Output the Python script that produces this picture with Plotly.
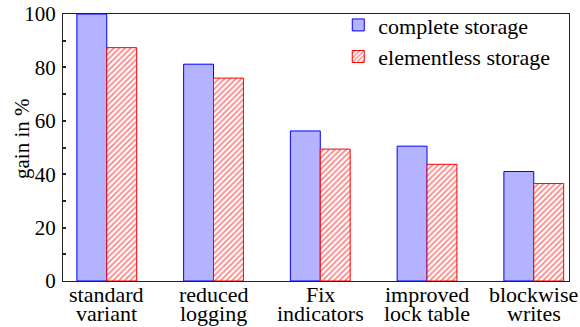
import plotly.graph_objects as go

categories = ["standard variant", "reduced logging", "Fix indicators", "improved lock table", "blockwise writes"]
tick_line1 = ["standard", "reduced", "Fix", "improved", "blockwise"]
tick_line2 = ["variant", "logging", "indicators", "lock table", "writes"]
complete_storage = [100, 81.2, 56.2, 50.5, 41.0]
elementless_storage = [87.4, 76.0, 49.4, 43.7, 36.5]

FONT = "Liberation Serif"
xs = list(range(len(categories)))

fig = go.Figure()
fig.add_trace(go.Bar(
    x=xs, y=complete_storage, name="complete storage",
    marker=dict(color="#b3b3ff", line=dict(color="#0000ff", width=1)),
))
fig.add_trace(go.Bar(
    x=xs, y=elementless_storage, name="elementless storage",
    marker=dict(color="white", line=dict(color="#ff0000", width=1),
                pattern=dict(shape="/", fgcolor="#ff0000", bgcolor="white",
                             size=4, solidity=0.4)),
))

annotations = []
for i, (l1, l2) in enumerate(zip(tick_line1, tick_line2)):
    annotations.append(dict(x=i, y=0, xref="x", yref="paper", yanchor="top",
                            text=l1, showarrow=False, yshift=0, borderpad=0,
                            font=dict(family=FONT, size=22, color="black")))
    annotations.append(dict(x=i, y=0, xref="x", yref="paper", yanchor="top",
                            text=l2, showarrow=False, yshift=-19, borderpad=0,
                            font=dict(family=FONT, size=22, color="black")))
annotations.append(dict(x=0, y=0.532, xref="paper", yref="paper", xanchor="center",
                        yanchor="middle", xshift=-41, text="gain in %", textangle=-90,
                        showarrow=False, font=dict(family=FONT, size=21, color="black")))

fig.update_layout(
    width=580, height=327,
    margin=dict(l=63, r=11, t=14, b=46, autoexpand=False),
    paper_bgcolor="white", plot_bgcolor="white",
    font=dict(family=FONT, size=21, color="black"),
    barmode="group", bargap=0.44, bargroupgap=0,
    showlegend=True,
    legend=dict(x=0.544, y=1.037, xanchor="left", yanchor="top",
                bgcolor="rgba(0,0,0,0)", font=dict(family=FONT, size=22),
                tracegroupgap=0, itemwidth=30),
    annotations=annotations,
)
fig.update_xaxes(range=[-0.41, 4.33], showticklabels=False, ticks="", automargin=False,
                 showline=True, linecolor="#222", linewidth=1.3, mirror=True,
                 showgrid=False, zeroline=False)
fig.update_yaxes(range=[0, 100], dtick=20, ticks="inside", ticklen=3, tickwidth=1.5,
                 tickcolor="#222", minor=dict(dtick=10, ticks="inside", ticklen=3,
                                                tickwidth=1.5, tickcolor="#222"),
                 showline=True, linecolor="#222", linewidth=1.3, mirror=True, automargin=False,
                 showgrid=False, zeroline=False, ticklabelstandoff=2,
                 tickfont=dict(family=FONT, size=21, color="black"))

fig.write_html("out.html", config={"displayModeBar": False},
               post_script="document.body.style.margin='0';document.body.style.padding='0';")
